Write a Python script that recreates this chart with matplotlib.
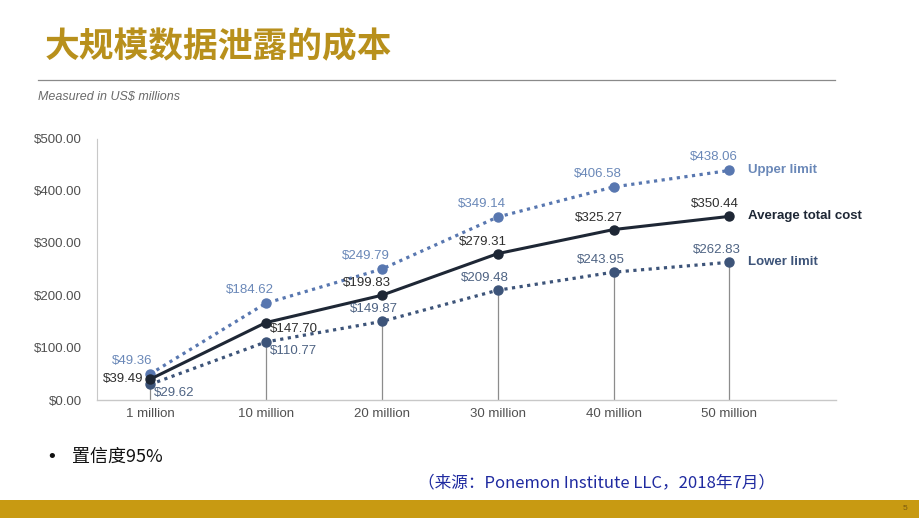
import matplotlib
matplotlib.use("Agg")
import matplotlib.pyplot as plt
from matplotlib.transforms import offset_copy

# datos
categorias = ["1 million", "10 million", "20 million", "30 million", "40 million", "50 million"]
upper = [49.36, 184.62, 249.79, 349.14, 406.58, 438.06]
average = [39.49, 147.70, 199.83, 279.31, 325.27, 350.44]
lower = [29.62, 110.77, 149.87, 209.48, 243.95, 262.83]
yticks = [0, 100, 200, 300, 400, 500]

C_UP = "#5877B0"
C_AVG = "#1E2735"
C_LOW = "#3D5479"
C_UP_TXT = "#6A88B8"
C_LOW_TXT = "#4E6383"
C_AVG_TXT = "#2E2E2E"
GOLD = "#B8901C"

plt.rcParams["font.family"] = ["Liberation Sans", "DejaVu Sans"]
CJK = ["Noto Sans CJK SC", "DejaVu Sans"]

W, H = 920, 518
fig = plt.figure(figsize=(W / 100, H / 100), dpi=100)
fig.patch.set_facecolor("white")

# titulo y cabecera
fig.text(45 / W, 1 - 47 / H, "大规模数据泄露的成本", family=CJK, fontsize=25,
         fontweight="heavy", color=GOLD, ha="left", va="center")
fig.add_artist(plt.Line2D([38 / W, 835 / W], [1 - 80 / H, 1 - 80 / H],
                          color="#8A8A8A", linewidth=0.9))
fig.text(38 / W, 1 - 97 / H, "Measured in US$ millions", fontsize=9,
         style="italic", color="#6A6A6A", ha="left", va="center")

ax = fig.add_axes([97 / W, 118 / H, (836 - 97) / W, (400 - 138) / H])
x = list(range(len(categorias)))
ax.set_xlim(-0.457, 5.92)
ax.set_ylim(0, 500)

# lineas verticales desde el limite inferior
ax.vlines(x, 0, lower, color="#8C8C8C", linewidth=0.9, zorder=1)

ax.plot(x, upper, color=C_UP, linestyle=(0, (1, 1.4)), linewidth=2.3,
        marker="o", markersize=6.5, zorder=3)
ax.plot(x, lower, color=C_LOW, linestyle=(0, (1, 1.4)), linewidth=2.3,
        marker="o", markersize=6.5, zorder=3)
ax.plot(x, average, color=C_AVG, linestyle="-", linewidth=2.2,
        marker="o", markersize=6.5, zorder=4)

ax.set_yticks(yticks)
ax.set_yticklabels([f"${v:.2f}" for v in yticks])
ax.set_xticks(x)
ax.set_xticklabels(categorias)
ax.tick_params(length=0, labelsize=9.5, labelcolor="#505050")
ax.tick_params(axis="y", pad=11)
ax.tick_params(axis="x", pad=6)
for s in ("top", "right"):
    ax.spines[s].set_visible(False)
ax.spines["left"].set_color("#C8C8C8")
ax.spines["left"].set_linestyle((0, (1, 1)))
ax.spines["bottom"].set_color("#C8C8C8")
ax.spines["bottom"].set_linewidth(1.0)


def etiqueta(i, v, dx, dy, color, ha="center", va="bottom"):
    tr = offset_copy(ax.transData, fig=fig, x=dx, y=dy, units="dots")
    ax.text(i, v, f"${v:.2f}", transform=tr, fontsize=9.5, color=color,
            ha=ha, va=va, clip_on=False, zorder=5)


for i in x:
    # limite superior
    etiqueta(i, upper[i], -16 if i else -18, 7, C_UP_TXT)
    # promedio
    if i == 0:
        etiqueta(i, average[i], -7, 0, C_AVG_TXT, ha="right", va="center")
    elif i == 1:
        etiqueta(i, average[i], 4, -6, C_AVG_TXT, ha="left", va="center")
    else:
        etiqueta(i, average[i], -15, 6, C_AVG_TXT)
    # limite inferior
    if i < 2:
        etiqueta(i, lower[i], 4, -9, C_LOW_TXT, ha="left", va="center")
    else:
        etiqueta(i, lower[i], -13 if i > 2 else -8, 6, C_LOW_TXT)

# nombres de las series a la derecha
series = [("Upper limit", upper, C_UP_TXT), ("Average total cost", average, C_AVG),
          ("Lower limit", lower, C_LOW)]
for nombre, vals, col in series:
    tr = offset_copy(ax.transData, fig=fig, x=19, y=0, units="dots")
    ax.text(x[-1], vals[-1], nombre, transform=tr, fontsize=9.5,
            fontweight="bold", color=col, ha="left", va="center", clip_on=False)

# pie de la diapositiva
fig.text(48 / W, 1 - 457 / H, "•", fontsize=14, color="#111111",
         ha="left", va="center")
fig.text(72 / W, 1 - 457 / H, "置信度95%", family=CJK, fontsize=13,
         color="#111111", ha="left", va="center")
fig.text(418 / W, 1 - 483 / H, "（来源：Ponemon Institute LLC，2018年7月）",
         family=CJK, fontsize=12, color="#1F2AA0", ha="left", va="center")
fig.add_artist(plt.Rectangle((0, 0), 1, 18 / H, transform=fig.transFigure,
                             facecolor="#C89A12", edgecolor="none"))
fig.text(905 / W, 1 - 509 / H, "5", fontsize=6, color="#7A5A10",
         ha="center", va="center")

fig.savefig("out.png", dpi=100, facecolor="white")
